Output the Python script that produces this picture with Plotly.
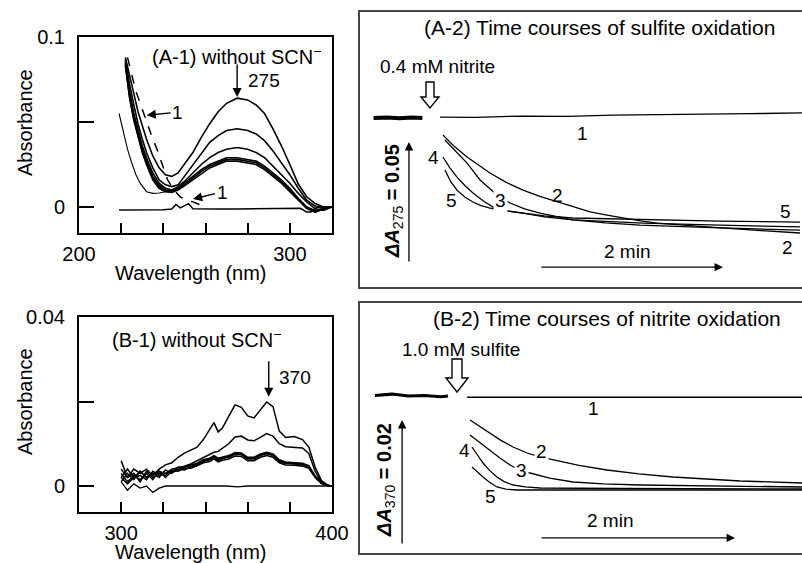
import plotly.graph_objects as go

W, H = 802, 563
def px(x): return x / W
def py(y): return 1 - y / H

FONT = "Liberation Sans, Arial, sans-serif"

# ---------------- (A-1) spectra without SCN- ----------------
wl_a1 = [222, 224, 226, 228, 230, 232, 235, 238, 241, 244, 247, 250, 254, 258, 262, 266,
         270, 275, 280, 284, 288, 292, 296, 300, 304, 308, 312, 316, 320]
a1_s1 = [0.088, 0.077, 0.066, 0.056, 0.048, 0.040, 0.030, 0.023, 0.019, 0.018, 0.020, 0.025, 0.032, 0.041,
         0.049, 0.056, 0.061, 0.064, 0.063, 0.060, 0.055, 0.046, 0.036, 0.025, 0.0135, 0.006, 0.002, 0.0, 0.0]
a1_s2 = [0.087, 0.072, 0.060, 0.049, 0.040, 0.032, 0.023, 0.016, 0.013, 0.012, 0.013, 0.018, 0.025, 0.032,
         0.038, 0.042, 0.045, 0.046, 0.045, 0.043, 0.039, 0.033, 0.026, 0.019, 0.011, 0.004, 0.0005, -0.001, 0.0]
a1_s3 = [0.086, 0.068, 0.055, 0.045, 0.036, 0.029, 0.020, 0.014, 0.011, 0.010, 0.012, 0.015, 0.020, 0.025,
         0.029, 0.032, 0.034, 0.035, 0.034, 0.032, 0.029, 0.024, 0.019, 0.014, 0.008, 0.003, -0.001, -0.002, 0.0]
a1_s4 = [0.085, 0.066, 0.053, 0.043, 0.034, 0.027, 0.018, 0.013, 0.010, 0.0095, 0.011, 0.014, 0.018, 0.022,
         0.025, 0.027, 0.029, 0.029, 0.028, 0.027, 0.024, 0.020, 0.016, 0.011, 0.005, 0.0, -0.002, -0.001, 0.0]
a1_s5 = [0.084, 0.065, 0.052, 0.042, 0.033, 0.026, 0.017, 0.012, 0.0095, 0.009, 0.0105, 0.013, 0.017, 0.021,
         0.024, 0.026, 0.028, 0.028, 0.027, 0.026, 0.023, 0.019, 0.015, 0.010, 0.005, 0.0, -0.003, -0.001, 0.0]
a1_s6 = [0.083, 0.064, 0.051, 0.041, 0.032, 0.025, 0.016, 0.011, 0.009, 0.0085, 0.010, 0.0125, 0.016, 0.020,
         0.023, 0.025, 0.027, 0.027, 0.026, 0.025, 0.022, 0.018, 0.014, 0.009, 0.004, -0.001, -0.003, -0.001, 0.0]
wl_a1_dash = [223, 225, 227, 229, 231, 233, 235, 237, 239, 242, 245, 248, 251, 254, 258]
a1_dash = [0.088, 0.078, 0.068, 0.061, 0.054, 0.046, 0.040, 0.034, 0.027, 0.016, 0.010, 0.006, 0.004, 0.003, 0.001]
wl_a1_thin = [219, 221, 223, 225, 227, 229, 232, 235, 238, 241, 244]
a1_thin = [0.055, 0.044, 0.034, 0.026, 0.019, 0.014, 0.009, 0.008, 0.0082, 0.009, 0.0095]
wl_a1_base = [219, 225, 230, 235, 240, 244, 246, 248, 250, 252, 254, 258, 265, 275, 285, 295, 305, 308, 310, 313, 316, 320]
a1_base = [-0.0018, -0.0018, -0.0017, -0.0017, -0.0016, -0.0012, 0.0015, -0.0005, 0.001, 0.002, -0.001,
           -0.0012, -0.0012, -0.0012, -0.001, -0.0008, -0.0008, -0.003, -0.003, 0.0, 0.0, 0.0]

# ---------------- (B-1) spectra without SCN- ----------------
wl_b1 = [300, 303, 306, 309, 312, 315, 318, 321, 324, 327, 330, 333, 336, 339, 342, 344, 346, 348,
         351, 354, 357, 360, 363, 366, 369, 372, 375, 378, 382, 386, 389, 392, 395, 398, 400]
b1_s1 = [0.006, 0.002, 0.004, 0.003, 0.004, 0.0025, 0.004, 0.005, 0.0055, 0.0068, 0.0078, 0.0085, 0.0092,
         0.011, 0.0135, 0.0150, 0.0128, 0.0137, 0.0165, 0.0192, 0.0186, 0.0166, 0.0161, 0.0180, 0.0199,
         0.0188, 0.0130, 0.0115, 0.0117, 0.0110, 0.0092, 0.0045, 0.0013, 0.0002, 0.0]
b1_s2 = [0.002, 0.004, 0.002, 0.0035, 0.002, 0.003, 0.0035, 0.003, 0.004, 0.0043, 0.0047, 0.0052, 0.006,
         0.0068, 0.0075, 0.0080, 0.0082, 0.0090, 0.0100, 0.0116, 0.0118, 0.0109, 0.0107, 0.0115, 0.0124,
         0.0118, 0.0100, 0.0093, 0.0092, 0.0090, 0.0077, 0.0035, 0.0010, 0.0001, 0.0]
b1_s3 = [0.003, 0.001, 0.0025, 0.0015, 0.003, 0.0015, 0.0035, 0.002, 0.0035, 0.004, 0.0038, 0.0045, 0.005,
         0.0058, 0.0062, 0.0068, 0.0060, 0.0065, 0.0068, 0.0075, 0.0074, 0.0064, 0.0064, 0.0072, 0.0076,
         0.0072, 0.0058, 0.0053, 0.0052, 0.0050, 0.0045, 0.0022, 0.0007, 0.0001, 0.0]
b1_s4 = [0.001, 0.003, 0.0015, 0.0035, 0.002, 0.003, 0.002, 0.0038, 0.003, 0.0045, 0.0043, 0.005, 0.0054,
         0.0062, 0.0066, 0.0072, 0.0066, 0.0069, 0.0072, 0.0079, 0.0078, 0.0068, 0.0068, 0.0076, 0.0080,
         0.0076, 0.0062, 0.0057, 0.0056, 0.0054, 0.0048, 0.0024, 0.0008, 0.0001, 0.0]
b1_s5 = [0.004, 0.002, 0.003, 0.001, 0.0035, 0.002, 0.003, 0.0025, 0.0038, 0.0035, 0.0042, 0.0042, 0.0048,
         0.0055, 0.0058, 0.0064, 0.0057, 0.0061, 0.0064, 0.0071, 0.0070, 0.0060, 0.0060, 0.0068, 0.0072,
         0.0068, 0.0055, 0.0050, 0.0049, 0.0047, 0.0042, 0.0020, 0.0006, 0.0001, 0.0]
b1_s6 = [0.002, 0.0005, 0.002, 0.0025, 0.0015, 0.0035, 0.0025, 0.003, 0.0032, 0.0038, 0.0046, 0.0047, 0.0052,
         0.0060, 0.0064, 0.0070, 0.0063, 0.0067, 0.0070, 0.0077, 0.0076, 0.0066, 0.0066, 0.0074, 0.0078,
         0.0074, 0.0060, 0.0055, 0.0054, 0.0052, 0.0046, 0.0023, 0.0007, 0.0001, 0.0]
wl_b1_base = [300, 303, 306, 309, 312, 315, 318, 321, 324, 330, 340, 350, 355, 360, 370, 380, 390, 400]
b1_base = [0.001, -0.001, 0.0005, -0.0005, 0.0, -0.0015, -0.0005, 0.0, 0.0, 0.0, 0.0, 0.0, -0.0002,
           0.0, 0.0, 0.0, 0.0, 0.0]

# ---------------- (A-2) time courses of sulfite oxidation (dA275) ----------------
t_a2_pre = [-37, -28, -20, -12, -5]
a2_pre = [0.0, 0.0002, -0.0001, 0.0002, 0.0]
t_a2_1 = [6.6, 30, 60, 90, 120, 150, 180, 210, 244]
a2_1 = [0.0004, 0.0003, 0.0008, 0.0007, 0.0012, 0.0013, 0.0016, 0.0018, 0.0021]
t_a2_2 = [8.5, 16, 24.3, 32, 39.3, 50, 61, 72, 83.3, 95, 105, 116, 126.6, 138, 148.9, 165, 181.6, 210, 242.6]
a2_2 = [-0.0070, -0.0118, -0.0161, -0.0196, -0.0227, -0.0266, -0.0298, -0.0324, -0.0347, -0.0369,
        -0.0388, -0.0401, -0.0413, -0.0425, -0.0434, -0.0443, -0.0450, -0.0462, -0.0475]
t_a2_3 = [9.8, 17, 24.3, 32.8, 43.9, 52.5, 62, 72.1, 93.8, 115, 137.7, 180, 242.6]
a2_3 = [-0.0091, -0.0140, -0.0186, -0.0256, -0.0318, -0.0351, -0.0375, -0.0393, -0.0421, -0.0433,
        -0.0442, -0.0452, -0.0463]
t_a2_4 = [8.5, 13, 17.7, 23, 28.2, 35, 41.3, 50, 61, 75, 93.8, 140, 190, 242.6]
a2_4 = [-0.0161, -0.0206, -0.0244, -0.0280, -0.0310, -0.0343, -0.0368, -0.0383, -0.0393, -0.0408,
        -0.0421, -0.0434, -0.0442, -0.0450]
t_a2_5 = [9.8, 13.5, 17.7, 23, 28.2, 33, 39.3, 50, 61, 75, 93.8, 140, 190, 242.6]
a2_5 = [-0.0215, -0.0262, -0.0298, -0.0327, -0.0347, -0.0361, -0.0372, -0.0384, -0.0393, -0.0404,
        -0.0413, -0.0420, -0.0426, -0.0430]

# ---------------- (B-2) time courses of nitrite oxidation (dA370) ----------------
t_b2_pre = [-50.5, -40, -30, -20, -10, -5.5]
b2_pre = [0.0001, 0.0003, 0.0, 0.0001, -0.0001, 0.0]
t_b2_1 = [6.2, 50, 100, 150, 212.3]
b2_1 = [-0.0002, -0.0002, -0.0002, -0.0002, -0.0002]
t_b2_2 = [8, 14, 20.3, 27, 34.5, 43.1, 51, 59.1, 75, 92.3, 112, 132.9, 155, 174.2, 212.3]
b2_2 = [-0.00384, -0.00490, -0.00592, -0.00710, -0.00816, -0.00912, -0.00975, -0.01024, -0.01110,
        -0.01184, -0.01245, -0.01296, -0.01332, -0.01360, -0.01392]
t_b2_3 = [8, 14, 20.3, 26, 32.6, 38, 44.9, 57, 71.4, 90, 112.6, 150, 212.3]
b2_3 = [-0.00624, -0.00745, -0.00864, -0.00985, -0.01104, -0.01180, -0.01232, -0.01315, -0.01376,
        -0.01405, -0.01424, -0.01440, -0.01456]
t_b2_4 = [9.2, 12.5, 16, 20, 24.6, 29, 34.5, 42, 51.1, 100, 150, 212.3]
b2_4 = [-0.00816, -0.00950, -0.01072, -0.01190, -0.01296, -0.01370, -0.01424, -0.01455, -0.01472,
        -0.01480, -0.01485, -0.01488]
t_b2_5 = [9.2, 12.5, 16, 20, 24.6, 30, 36.9, 50, 100, 150, 212.3]
b2_5 = [-0.01136, -0.01220, -0.01296, -0.01380, -0.01456, -0.01490, -0.01504, -0.01504, -0.01504,
        -0.01504, -0.01504]

fig = go.Figure()

def add_line(x, y, xa, ya, width=1.5, dash=None, color="black"):
    fig.add_trace(go.Scatter(x=x, y=y, mode="lines", xaxis=xa, yaxis=ya,
                             line=dict(color=color, width=width, dash=dash),
                             showlegend=False, hoverinfo="skip"))

# A-1
for s in [a1_s6, a1_s5, a1_s4, a1_s3, a1_s2, a1_s1]:
    add_line(wl_a1, s, "x", "y", width=1.6)
add_line(wl_a1_thin, a1_thin, "x", "y", width=1.1)
add_line(wl_a1_dash, a1_dash, "x", "y", width=1.5, dash="dash")
add_line(wl_a1_base, a1_base, "x", "y", width=1.5)

# B-1
for s in [b1_s6, b1_s5, b1_s4, b1_s3, b1_s2, b1_s1]:
    add_line(wl_b1, s, "x3", "y3", width=1.5)
add_line(wl_b1_base, b1_base, "x3", "y3", width=1.3)

# A-2
add_line(t_a2_pre, a2_pre, "x2", "y2", width=4)
add_line(t_a2_1, a2_1, "x2", "y2", width=1.3)
for t, s in [(t_a2_2, a2_2), (t_a2_3, a2_3), (t_a2_4, a2_4), (t_a2_5, a2_5)]:
    add_line(t, s, "x2", "y2", width=1.3)

# B-2
add_line(t_b2_pre, b2_pre, "x4", "y4", width=3)
add_line(t_b2_1, b2_1, "x4", "y4", width=1.3)
for t, s in [(t_b2_2, b2_2), (t_b2_3, b2_3), (t_b2_4, b2_4), (t_b2_5, b2_5)]:
    add_line(t, s, "x4", "y4", width=1.3)

spec_x = dict(showline=True, mirror=True, linecolor="black", linewidth=2, ticks="inside",
              ticklen=10, tickwidth=2, tickcolor="black", showgrid=False, zeroline=False,
              tickfont=dict(size=20, family=FONT, color="black"), ticklabelstandoff=2,
              automargin=False)
spec_y = dict(showline=True, mirror=True, linecolor="black", linewidth=2, ticks="inside",
              ticklen=15, tickwidth=2, tickcolor="black", showgrid=False, zeroline=False,
              tickfont=dict(size=20, family=FONT, color="black"), ticklabelstandoff=8,
              automargin=False)
box_x = dict(showline=True, mirror=True, linecolor="#444", linewidth=1.5, ticks="",
             showticklabels=False, showgrid=False, zeroline=False, automargin=False)
box_y = dict(showline=True, mirror=False, linecolor="#444", linewidth=1.5, ticks="",
             showticklabels=False, showgrid=False, zeroline=False, automargin=False)

fig.update_layout(
    width=W, height=H, margin=dict(l=0, r=0, t=0, b=0, pad=0, autoexpand=False),
    paper_bgcolor="white", plot_bgcolor="rgba(0,0,0,0)", showlegend=False,
    font=dict(family=FONT, color="black"),
    xaxis=dict(spec_x, domain=[px(79), px(332)], range=[200, 320], anchor="y",
               tickvals=[200, 220, 240, 260, 280, 300], ticktext=["200", "", "", "", "", "300"]),
    yaxis=dict(spec_y, domain=[py(233), py(37)], range=[-0.0153, 0.1], anchor="x",
               tickvals=[0, 0.05, 0.1], ticktext=["0", "", "0.1"]),
    xaxis2=dict(box_x, domain=[px(360), 1.0], range=[-45.9, 243.9], anchor="y2"),
    yaxis2=dict(box_y, domain=[py(287), py(12)], range=[-0.0698, 0.0438], anchor="x2"),
    xaxis3=dict(spec_x, domain=[px(79), px(332)], range=[280, 400], anchor="y3",
                tickvals=[300, 320, 340, 360, 380, 400], ticktext=["300", "", "", "", "", "400"]),
    yaxis3=dict(spec_y, domain=[py(512), py(317)], range=[-0.00615, 0.04], anchor="x3",
                tickvals=[0, 0.02, 0.04], ticktext=["0", "", "0.04"]),
    xaxis4=dict(box_x, domain=[px(360), 1.0], range=[-59.7, 212.3], anchor="y4"),
    yaxis4=dict(box_y, domain=[py(553), py(303)], range=[-0.02512, 0.01488], anchor="x4"),
)

anns = []
def txt(text, x, y, size=19, **kw):
    d = dict(text=text, x=px(x), y=py(y), xref="paper", yref="paper", showarrow=False,
             font=dict(size=size, family=FONT, color="black"), xanchor="center", yanchor="middle")
    d.update(kw)
    anns.append(d)

def dtxt(text, x, y, xr, yr, size=19, **kw):
    d = dict(text=text, x=x, y=y, xref=xr, yref=yr, showarrow=False,
             font=dict(size=size, family=FONT, color="black"), xanchor="center", yanchor="middle")
    d.update(kw)
    anns.append(d)

def arrow(x, y, ax, ay, xr, yr, axr="pixel", ayr="pixel", text="", size=19, width=1.4):
    anns.append(dict(text=text, x=x, y=y, xref=xr, yref=yr, ax=ax, ay=ay, axref=axr, ayref=ayr,
                     showarrow=True, arrowhead=2, arrowsize=1.3, arrowwidth=width, arrowcolor="black",
                     font=dict(size=size, family=FONT, color="black")))

# A-1 texts
txt("(A-1) without SCN<sup>−</sup>", 236, 55, size=20)
txt("Absorbance", 25, 123, size=20, textangle=-90)
txt("Wavelength (nm)", 191, 273, size=20)
txt("275", 246, 80, xanchor="left")
arrow(275, 0.0647, 0, -34, "x", "y")
arrow(232.1, 0.054, 31, -3, "x", "y", text="1")
arrow(254.1, 0.0047, 29, -7, "x", "y", text="1")

# B-1 texts
txt("(B-1) without SCN<sup>−</sup>", 196, 338, size=20)
txt("Absorbance", 25, 402, size=20, textangle=-90)
txt("Wavelength (nm)", 191, 552, size=20)
txt("370", 277, 377, xanchor="left")
arrow(370, 0.0211, 0, -37, "x3", "y3")

# A-2 texts
txt("(A-2) Time courses of sulfite oxidation", 599, 27, size=21)
txt("0.4 mM nitrite", 437, 67)
dtxt("1", 99.7, -0.0062, "x2", "y2")
dtxt("2", 83.9, -0.0322, "x2", "y2")
dtxt("3", 45.9, -0.0339, "x2", "y2", bgcolor="white")
dtxt("4", 2.0, -0.0161, "x2", "y2")
dtxt("5", 14.4, -0.0339, "x2", "y2")
dtxt("5", 232.8, -0.0388, "x2", "y2")
dtxt("2", 234.1, -0.0533, "x2", "y2")
txt("<b><i>ΔA</i></b><sub>275</sub><b> = 0.05</b>", 394, 201, size=20, textangle=-90)
arrow(-13.8, -0.0099, -13.8, -0.0599, "x2", "y2", "x2", "y2", width=1.3)
txt("2 min", 627, 252)
arrow(192.1, -0.0616, 72.1, -0.0616, "x2", "y2", "x2", "y2", width=1.3)

# B-2 texts
txt("(B-2) Time courses of nitrite oxidation", 607, 318, size=21)
txt("1.0 mM sulfite", 461, 349)
dtxt("1", 83.9, -0.00197, "x4", "y4")
dtxt("2", 52.1, -0.00891, "x4", "y4", bgcolor="white")
dtxt("3", 39.8, -0.01184, "x4", "y4", bgcolor="white")
dtxt("4", 4.9, -0.00864, "x4", "y4")
dtxt("5", 20.3, -0.01611, "x4", "y4")
txt("<b><i>ΔA</i></b><sub>370</sub><b> = 0.02</b>", 386, 480, size=20, textangle=-90)
arrow(-33.8, -0.00384, -33.8, -0.02384, "x4", "y4", "x4", "y4", width=1.3)
txt("2 min", 610, 520)
arrow(171.1, -0.0227, 51.1, -0.0227, "x4", "y4", "x4", "y4", width=1.3)

fig.update_layout(annotations=anns)

# hollow injection arrows
def path_px(points):
    return "M " + " L ".join(f"{px(x):.5f},{py(y):.5f}" for x, y in points) + " Z"

hollow_a2 = [(426, 82), (434, 82), (434, 97), (439, 97), (430, 108), (421, 97), (426, 97)]
hollow_b2 = [(452, 359), (462, 359), (462, 378), (468, 378), (457, 392), (446, 378), (452, 378)]
for pts in [hollow_a2, hollow_b2]:
    fig.add_shape(type="path", path=path_px(pts), xref="paper", yref="paper",
                  line=dict(color="black", width=1.4), fillcolor="white")

fig.write_html("out.html")
